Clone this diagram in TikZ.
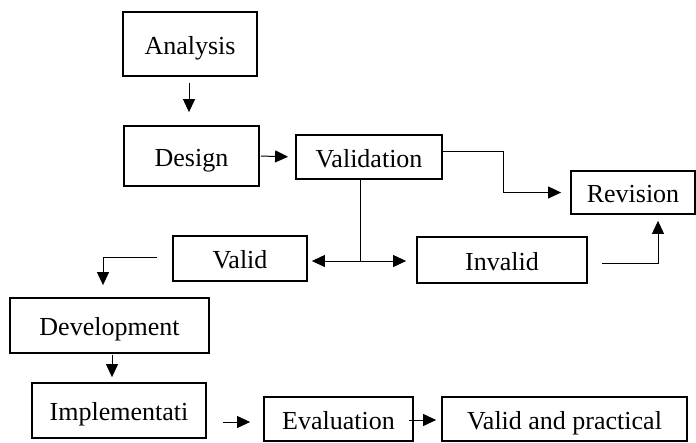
\documentclass[tikz,border=0pt]{standalone}
\usepackage{fontspec}
\setmainfont{Liberation Serif}
\usetikzlibrary{arrows.meta}

\tikzset{
	box/.style={draw, rectangle, line width=1.8pt, inner sep=0pt, text height=20pt, text depth=0pt, font=\fontsize{26}{30}\selectfont},
	arr/.style={line width=1pt, -{Triangle[length=13pt,width=12pt]}}
}

\begin{document}
\begin{tikzpicture}[x=1pt,y=-1pt]
				
					\useasboundingbox (0,0) rectangle (696,442);
					
					\node[box, minimum width=134pt, minimum height=64pt] (ana) at (190,44) {Analysis};
					\node[box, minimum width=135pt, minimum height=60pt] (des) at (191.5,156) {Design};
					\node[box, minimum width=146pt, minimum height=44pt] (vali) at (369,157) {Validation};
					\node[box, minimum width=124pt, minimum height=43pt] (rev) at (633,192.5) {Revision};
					\node[box, minimum width=134pt, minimum height=45pt] (valid) at (240,258.5) {Valid};
					\node[box, minimum width=170pt, minimum height=46pt] (inval) at (502,260) {Invalid};
					\node[box, minimum width=199pt, minimum height=55pt] (dev) at (109.5,325.5) {Development};
					\node[box, minimum width=174pt, minimum height=55pt] (imp) at (119,410.5) {Implementati};
					\node[box, minimum width=149pt, minimum height=44pt] (eval) at (338.5,419) {Evaluation};
					\node[box, minimum width=245pt, minimum height=44pt] (vp) at (564.5,419) {Valid and practical};
					
					\coordinate (split) at (360,261);
					
					\draw[arr, shorten <=6pt, shorten >=13pt] ([xshift=-1pt]ana.south) -- ([xshift=-2.5pt]des.north);
					\draw[arr, shorten <=1pt, shorten >=7pt] (des.east) -- (vali.west);
					\draw[arr, shorten >=9pt] ([yshift=6pt]vali.east) -- ++(61,0) |- (rev.west);
					
					\draw[line width=1pt] ([xshift=-9pt]vali.south) -- (split);
					\draw[arr, shorten >=4pt] (split) -- (valid.east |- split);
					\draw[arr, shorten >=10pt] (split) -- (inval.west |- split);
					
					\draw[arr, shorten >=6pt] ([xshift=14pt,yshift=-3pt]inval.east) -| ([xshift=25pt]rev.south);
					\draw[arr, shorten >=12pt] ([xshift=-15pt,yshift=1.5pt]valid.west) -| ([xshift=-6.5pt]dev.north);
					\draw[arr, shorten <=1pt, shorten >=5pt] ([xshift=2.5pt]dev.south) -- ([xshift=2.5pt]dev.south |- imp.north);
					
					\draw[arr, shorten <=16pt, shorten >=13pt] ([yshift=-3pt]imp.east |- eval.west) -- ([yshift=-3pt]eval.west);
					\draw[arr, shorten <=-5pt, shorten >=5pt] ([yshift=-1pt]eval.east) -- ([yshift=-1pt]vp.west);

				\end{tikzpicture}
\end{document}
